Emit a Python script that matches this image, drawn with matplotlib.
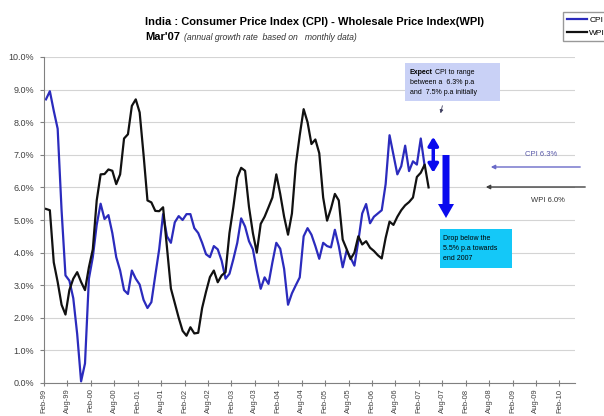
import numpy as np
import matplotlib
matplotlib.use("Agg")
import matplotlib.pyplot as plt
from matplotlib.patches import Rectangle, FancyArrow
from matplotlib.ticker import FuncFormatter

plt.rcParams["font.family"] = ["Liberation Sans", "DejaVu Sans"]

# monthly annual growth rates (%), starting Feb-99
cpi = [8.7, 8.95, 8.35, 7.8, 5.3, 3.3, 3.14, 2.6, 1.5, 0.05,
       0.6, 3.2, 3.86, 4.85, 5.5, 5.03, 5.15, 4.6, 3.86, 3.45,
       2.85, 2.73, 3.45, 3.2, 3.02, 2.55, 2.3, 2.48, 3.3, 4.1,
       5.18, 4.5, 4.3, 4.93, 5.12, 5.0, 5.18, 5.18, 4.75, 4.6,
       4.3, 3.95, 3.86, 4.2, 4.1, 3.75, 3.2, 3.35, 3.8, 4.3,
       5.05, 4.8, 4.35, 4.1, 3.45, 2.89, 3.24, 3.04, 3.7, 4.3,
       4.12, 3.5, 2.4, 2.75, 3.0, 3.24, 4.5, 4.75, 4.55, 4.2,
       3.81, 4.3, 4.2, 4.16, 4.7, 4.2, 3.55, 4.06, 3.85, 3.6,
       4.35, 5.2, 5.49, 4.9, 5.1, 5.2, 5.3, 6.1, 7.6, 7.0,
       6.4, 6.65, 7.28, 6.5, 6.8, 6.7, 7.5, 6.65]

wpi = [5.34, 5.3, 3.7, 3.1, 2.4, 2.1, 2.85, 3.2, 3.4, 3.1,
       2.85, 3.55, 4.1, 5.6, 6.4, 6.41, 6.55, 6.51, 6.1, 6.4,
       7.5, 7.63, 8.5, 8.7, 8.3, 7.0, 5.6, 5.54, 5.28, 5.27,
       5.39, 4.15, 2.9, 2.45, 2.0, 1.6, 1.45, 1.71, 1.52, 1.54,
       2.3, 2.8, 3.25, 3.45, 3.09, 3.3, 3.4, 4.6, 5.4, 6.3,
       6.6, 6.51, 5.4, 4.6, 4.0, 4.88, 5.1, 5.39, 5.69, 6.4,
       5.8, 5.1, 4.55, 5.2, 6.7, 7.6, 8.4, 8.0, 7.33, 7.47,
       7.05, 5.69, 4.98, 5.35, 5.8, 5.6, 4.4, 4.11, 3.8, 4.0,
       4.5, 4.25, 4.35, 4.15, 4.05, 3.92, 3.82, 4.45, 4.95, 4.85,
       5.1, 5.3, 5.45, 5.55, 5.69, 6.32, 6.45, 6.7, 6.0]

tick_labels = ["Feb-99", "Aug-99", "Feb-00", "Aug-00", "Feb-01", "Aug-01",
               "Feb-02", "Aug-02", "Feb-03", "Aug-03", "Feb-04", "Aug-04",
               "Feb-05", "Aug-05", "Feb-06", "Aug-06", "Feb-07", "Aug-07",
               "Feb-08", "Aug-08", "Feb-09", "Aug-09", "Feb-10"]
n_months = 136

W, H = 604, 416


def px(x, y):
    # pixel position (from top-left) -> figure fraction
    return x / W, 1 - y / H


fig = plt.figure(figsize=(W / 100, H / 100), dpi=100)
ax = fig.add_axes([44 / W, 33 / H, 531 / W, 326 / H])

ax.plot(np.arange(len(cpi)), cpi, color="#2b2bbd", lw=1.6, label="CPI")
ax.plot(np.arange(len(wpi)), wpi, color="#111111", lw=1.6, label="WPI")

ax.set_xlim(-0.5, n_months - 0.5)
ax.set_ylim(0, 10)
ax.set_yticks(np.arange(0, 11, 1))
ax.yaxis.set_major_formatter(FuncFormatter(lambda v, _: f"{v:.1f}%"))
ax.set_xticks(np.arange(len(tick_labels)) * 6 - 0.5)
ax.set_xticklabels(tick_labels, rotation=90)
ax.grid(axis="y", color="#d4d4d4", lw=0.8)
ax.set_axisbelow(True)
for s in ["top", "right"]:
    ax.spines[s].set_visible(False)
for s in ["left", "bottom"]:
    ax.spines[s].set_color("#808080")
ax.tick_params(axis="both", colors="#808080", labelcolor="#404040")
ax.tick_params(axis="x", direction="inout", length=4, pad=2, labelsize=5.5)
ax.tick_params(axis="y", direction="out", length=3, pad=4, labelsize=6.5)

# titles
fig.text(*px(145, 22), "India : Consumer Price Index (CPI) - Wholesale Price Index(WPI)",
         fontsize=8, fontweight="bold", ha="left", va="center")
fig.text(*px(145, 37), "Mar'07", fontsize=8, fontweight="bold", ha="left", va="center")
fig.text(*px(184, 37), "(annual growth rate  based on   monthly data)",
         fontsize=6.2, style="italic", ha="left", va="center", color="#333333")

# legend, partly running off the right edge
fig.legend(loc="upper left", bbox_to_anchor=px(563, 12), fontsize=6,
           frameon=True, fancybox=False, edgecolor="#808080",
           handlelength=2.4, handletextpad=0.3, labelspacing=0.7,
           borderpad=0.45, borderaxespad=0)

# expectation note
fig.add_artist(Rectangle(px(405, 101), 95 / W, 38 / H, transform=fig.transFigure,
                         facecolor="#c9d1f6", edgecolor="none"))
t_expect = fig.text(*px(410, 73), "Expect", fontsize=5, fontweight="bold",
                    ha="left", va="center")
bb = t_expect.get_window_extent(renderer=fig.canvas.get_renderer())
fig.text(bb.x1 / W, 1 - 73 / H, " CPI to range", fontsize=5, ha="left", va="center")
fig.text(*px(410, 83), "between a  6.3% p.a", fontsize=5, ha="left", va="center")
fig.text(*px(410, 93), "and  7.5% p.a initially", fontsize=5, ha="left", va="center")
ax.annotate("", xy=(440, H - 116), xytext=(443, H - 103), xycoords="figure pixels",
            textcoords="figure pixels", annotation_clip=False,
            arrowprops=dict(arrowstyle="-|>", color="#404060", lw=0.6, mutation_scale=5))

# drop note
fig.add_artist(Rectangle(px(440, 268), 72 / W, 39 / H, transform=fig.transFigure,
                         facecolor="#14c8f8", edgecolor="none"))
fig.text(*px(443, 238), "Drop below the", fontsize=5, ha="left", va="center")
fig.text(*px(443, 249), "5.5% p.a towards", fontsize=5, ha="left", va="center")
fig.text(*px(443, 259), "end 2007", fontsize=5, ha="left", va="center")

# expected range and expected drop
ax.annotate("", xy=(99.2, 7.55), xytext=(99.2, 6.45), annotation_clip=False,
            arrowprops=dict(arrowstyle="<|-|>, head_length=0.5, head_width=0.3",
                            color="#0a0aee", lw=2.5, shrinkA=0, shrinkB=0))
fig.add_artist(FancyArrow(4.46, (H - 155) / 100, 0, -0.63, width=0.07,
                          head_width=0.16, head_length=0.14, length_includes_head=True,
                          transform=fig.dpi_scale_trans, color="#0a0aee", lw=0))

# latest readings
ax.annotate("", xy=(488, H - 167), xytext=(583, H - 167), xycoords="figure pixels",
            textcoords="figure pixels", annotation_clip=False,
            arrowprops=dict(arrowstyle="-|>", color="#6a6ac8", lw=1.0, mutation_scale=6))
ax.annotate("", xy=(483, H - 187), xytext=(588, H - 187), xycoords="figure pixels",
            textcoords="figure pixels", annotation_clip=False,
            arrowprops=dict(arrowstyle="-|>", color="#404040", lw=1.0, mutation_scale=6))
fig.text(*px(541, 154), "CPI 6.3%", fontsize=5.5, ha="center", va="center", color="#5858a8")
fig.text(*px(548, 200), "WPI 6.0%", fontsize=5.5, ha="center", va="center", color="#333333")

fig.savefig("out.png", dpi=100)
